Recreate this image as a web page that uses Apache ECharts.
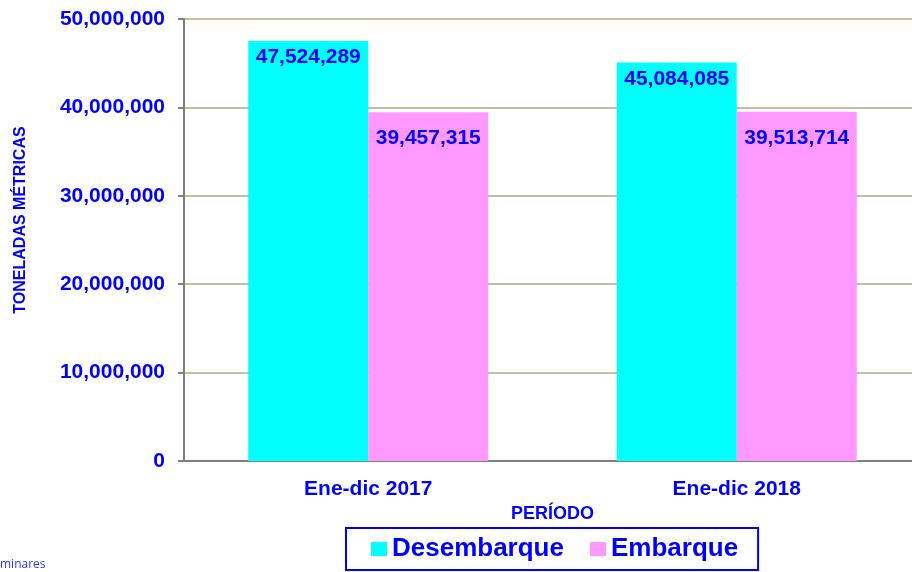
<!DOCTYPE html>
<html>
<head>
<meta charset="utf-8">
<script src="https://cdn.jsdelivr.net/npm/echarts@6/dist/echarts.min.js"></script>
<style>
  html, body { margin: 0; padding: 0; background: #fff; overflow: hidden; }
  /* wider than the window: the second category is cut at the right edge, like the original */
  #chart { width: 921px; height: 572px; }
</style>
</head>
<body>
<div id="chart"></div>
<script>
const periods = ['Ene-dic 2017', 'Ene-dic 2018'];
const desembarque = [47524289, 45084085];
const embarque = [39457315, 39513714];
const seriesNames = ['Desembarque', 'Embarque'];

const blue = '#0000FF';
const fmt = v => v.toLocaleString('en-US');

let chart = echarts.init(document.getElementById('chart'));

chart.setOption({
  animation: false,
  grid: {
    left: 184,
    top: 19,
    right: 0,
    height: 442
  },
  legend: {
    data: seriesNames,
    left: 346,
    top: 528,
    padding: [8, 20, 8, 25],
    borderColor: blue,
    borderWidth: 2,
    itemWidth: 16,
    itemHeight: 14,
    itemGap: 26,
    icon: 'rect',
    textStyle: {
      color: blue,
      fontFamily: 'Liberation Sans, Arial',
      fontWeight: 'bold',
      fontSize: 26
    }
  },
  xAxis: {
    type: 'category',
    data: periods,
    name: 'PERÍODO',
    nameLocation: 'middle',
    nameGap: 36,
    nameTextStyle: {
      color: blue,
      fontFamily: 'Liberation Sans, Arial',
      fontWeight: 'bold',
      fontSize: 18
    },
    axisLine: { lineStyle: { color: '#808080', width: 2 } },
    axisTick: { length: 6, lineStyle: { color: '#808080', width: 2 } },
    axisLabel: {
      margin: 18,
      color: blue,
      fontFamily: 'Liberation Sans, Arial',
      fontWeight: 'bold',
      fontSize: 21
    }
  },
  yAxis: {
    type: 'value',
    min: 0,
    max: 50000000,
    interval: 10000000,
    name: 'TONELADAS MÉTRICAS',
    nameLocation: 'middle',
    nameGap: 155,
    nameTextStyle: {
      color: blue,
      fontFamily: 'Liberation Sans, Arial',
      fontWeight: 'bold',
      fontSize: 16,
      padding: [0, 0, 0, 40]
    },
    axisLine: { show: true, lineStyle: { color: '#808080', width: 2 } },
    axisTick: { show: true, length: 6, lineStyle: { color: '#808080', width: 2 } },
    splitLine: { lineStyle: { color: '#C8BE9E', width: 2 } },
    axisLabel: {
      margin: 19,
      color: blue,
      fontFamily: 'Liberation Sans, Arial',
      fontWeight: 'bold',
      fontSize: 21,
      formatter: v => fmt(v)
    }
  },
  series: [
    {
      name: seriesNames[0],
      type: 'bar',
      data: desembarque,
      barWidth: 120,
      barGap: '0%',
      itemStyle: { color: '#00FFFF' },
      label: {
        show: true,
        position: 'insideTop',
        distance: 6,
        color: blue,
        fontFamily: 'Liberation Sans, Arial',
        fontWeight: 'bold',
        fontSize: 21,
        formatter: p => fmt(p.value)
      }
    },
    {
      name: seriesNames[1],
      type: 'bar',
      data: embarque,
      barWidth: 120,
      itemStyle: { color: '#FF99FF' },
      label: {
        show: true,
        position: 'insideTop',
        distance: 16,
        color: blue,
        fontFamily: 'Liberation Sans, Arial',
        fontWeight: 'bold',
        fontSize: 21,
        formatter: p => fmt(p.value)
      }
    }
  ],
  graphic: [
    {
      type: 'text',
      left: 0,
      top: 559,
      style: {
        text: 'minares',
        fill: '#3333FF',
        font: '12px "Open Sans", sans-serif'
      }
    }
  ]
});
</script>
</body>
</html>
